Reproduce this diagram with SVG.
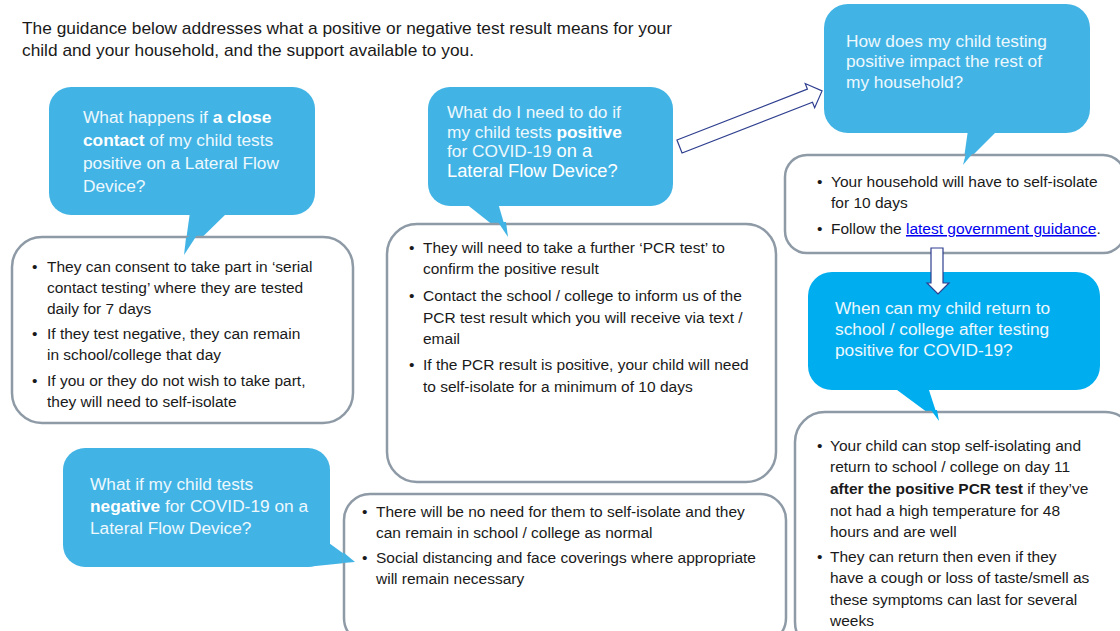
<svg xmlns="http://www.w3.org/2000/svg" width="1120" height="631" viewBox="0 0 1120 631">
<style>
text{font-family:"Liberation Sans",Arial,sans-serif}
.hd{font-size:17px;fill:#1a1a1a}
.q{font-size:17.3px;fill:#EEF8FD}
.w{fill:#fff}
.big{font-size:18.3px}
.b{font-size:15.5px;fill:#1a1a1a}
.bl{fill:#41B4E5}
.bl2{fill:#00AEEF}
.box{fill:#fff;stroke:#8E9AA6;stroke-width:2.5}
.arr{fill:#fff;stroke:#2F3F8F;stroke-width:1.2}
.bold{font-weight:bold;fill:#fff}
.lnk{fill:#0000EE;text-decoration:underline}
</style>
<rect width="1120" height="631" fill="#fff"/>
<g id="intro">
<text class="hd" x="22" y="34" textLength="650" lengthAdjust="spacingAndGlyphs">The guidance below addresses what a positive or negative test result means for your</text>
<text class="hd" x="22" y="56" textLength="452" lengthAdjust="spacingAndGlyphs">child and your household, and the support available to you.</text>
</g>

<g id="close-contact-question">
<rect class="bl" x="49" y="87" width="266" height="128" rx="22"/>
<polygon class="bl" points="190,212 228,212 184,255"/>
<text class="q" x="83" y="123">What happens if <tspan class="bold">a close</tspan></text>
<text class="q" x="83" y="146"><tspan class="bold">contact</tspan> of my child tests</text>
<text class="q" x="83" y="169">positive on a Lateral Flow</text>
<text class="q" x="83" y="192">Device?</text>
</g>
<g id="close-contact-answer">
<rect class="box" x="12" y="237" width="341" height="186" rx="30"/>
<polygon class="bl" points="191,235 197,235 184,255 186,238"/>
<text class="b" x="32" y="272">•</text>
<text class="b" x="47" y="272">They can consent to take part in ‘serial</text>
<text class="b" x="47" y="293">contact testing’ where they are tested</text>
<text class="b" x="47" y="314">daily for 7 days</text>
<text class="b" x="32" y="339">•</text>
<text class="b" x="47" y="339">If they test negative, they can remain</text>
<text class="b" x="47" y="360">in school/college that day</text>
<text class="b" x="32" y="386">•</text>
<text class="b" x="47" y="386">If you or they do not wish to take part,</text>
<text class="b" x="47" y="407">they will need to self-isolate</text>
</g>

<g id="positive-question">
<rect class="bl" x="428" y="87" width="245" height="119" rx="22"/>
<polygon class="bl" points="465,203 498,203 508,237"/>
<text class="q" x="447" y="118">What do I need to do if</text>
<text class="q" x="447" y="137.5">my child tests <tspan class="bold">positive</tspan></text>
<text class="q" x="447" y="157">for COVID-19 <tspan class="w big">on a</tspan></text>
<text class="q w big" x="447" y="177">Lateral Flow Device?</text>
</g>
<g id="positive-answer">
<rect class="box" x="387" y="224" width="389" height="258" rx="30"/>
<polygon class="bl" points="498,222 506,222 508,237"/>
<text class="b" x="409" y="253">•</text>
<text class="b" x="423" y="253">They will need to take a further ‘PCR test’ to</text>
<text class="b" x="423" y="274">confirm the positive result</text>
<text class="b" x="409" y="301">•</text>
<text class="b" x="423" y="301">Contact the school / college to inform us of the</text>
<text class="b" x="423" y="323">PCR test result which you will receive via text /</text>
<text class="b" x="423" y="344">email</text>
<text class="b" x="409" y="370">•</text>
<text class="b" x="423" y="370">If the PCR result is positive, your child will need</text>
<text class="b" x="423" y="392">to self-isolate for a minimum of 10 days</text>
</g>

<g id="household-question">
<rect class="bl" x="824" y="4" width="266" height="129" rx="24"/>
<polygon class="bl" points="968,130 998,130 963,165"/>
<text class="q" x="846" y="47">How does my child testing</text>
<text class="q" x="846" y="67">positive impact the rest of</text>
<text class="q" x="846" y="88">my household?</text>
</g>
<g id="household-answer">
<rect class="box" x="785" y="155" width="340" height="98" rx="22"/>
<polygon class="bl" points="966,153 973,153 963,165"/>
<text class="b" x="817" y="187">•</text>
<text class="b" x="831" y="187">Your household will have to self-isolate</text>
<text class="b" x="831" y="208">for 10 days</text>
<text class="b" x="817" y="234">•</text>
<text class="b" x="831" y="234">Follow the <tspan class="lnk">latest government guidance</tspan>.</text>
</g>

<g id="return-question">
<rect class="bl2" x="808" y="272" width="292" height="118" rx="24"/>
<polygon class="bl2" points="893,387 928,387 939,421"/>
<text class="q" x="835" y="314">When can my child return to</text>
<text class="q" x="835" y="335">school / college after testing</text>
<text class="q" x="835" y="356">positive for COVID-19?</text>
</g>
<g id="return-answer">
<rect class="box" x="795" y="412" width="340" height="240" rx="30"/>
<polygon class="bl2" points="931,410 937,410 939,421"/>
<text class="b" x="817" y="451">•</text>
<text class="b" x="830" y="451">Your child can stop self-isolating and</text>
<text class="b" x="830" y="472">return to school / college on day 11</text>
<text class="b" x="830" y="494"><tspan font-weight="bold">after the positive PCR test</tspan> if they’ve</text>
<text class="b" x="830" y="516">not had a high temperature for 48</text>
<text class="b" x="830" y="537">hours and are well</text>
<text class="b" x="817" y="562">•</text>
<text class="b" x="830" y="562">They can return then even if they</text>
<text class="b" x="830" y="583">have a cough or loss of taste/smell as</text>
<text class="b" x="830" y="605">these symptoms can last for several</text>
<text class="b" x="830" y="626">weeks</text>
</g>

<g id="negative-question">
<rect class="bl" x="63" y="448" width="267" height="119" rx="22"/>
<polygon class="bl" points="318,535 355,562 306,567"/>
<text class="q" x="90" y="490">What if my child tests</text>
<text class="q" x="90" y="512"><tspan class="bold">negative</tspan> for COVID-19 on a</text>
<text class="q" x="90" y="534">Lateral Flow Device?</text>
</g>
<g id="negative-answer">
<rect class="box" x="344" y="494" width="442" height="150" rx="26"/>
<polygon class="bl" points="343,552 355,562 343,563"/>
<text class="b" x="362" y="517">•</text>
<text class="b" x="376" y="517">There will be no need for them to self-isolate and they</text>
<text class="b" x="376" y="538">can remain in school / college as normal</text>
<text class="b" x="362" y="563">•</text>
<text class="b" x="376" y="563">Social distancing and face coverings where appropriate</text>
<text class="b" x="376" y="584">will remain necessary</text>
</g>

<g id="connectors">
<polygon class="arr" transform="translate(679.5,146.5) rotate(-21.3)" points="0,-7 140,-7 140,-13 153,0 140,13 140,7 0,7"/>
<polygon class="arr" points="931,248 943,248 943,283 949,283 938,294 927,283 931,283"/>
</g>
</svg>
